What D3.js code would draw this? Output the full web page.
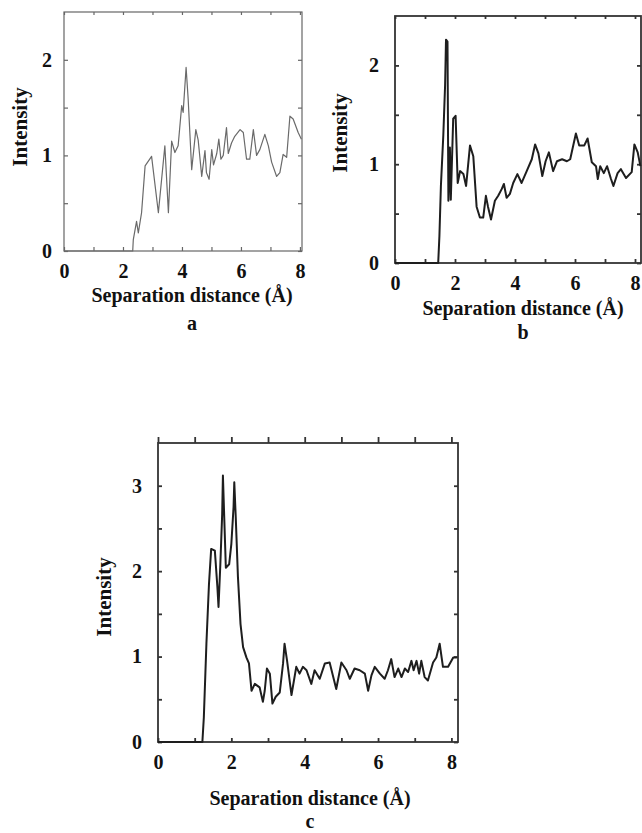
<!DOCTYPE html>
<html>
<head>
<meta charset="utf-8">
<script src="https://cdn.jsdelivr.net/npm/d3@7"></script>
<style>
  body { margin: 0; background: #fff; }
  text { font-family: "Liberation Serif", "Times New Roman", serif; font-weight: bold; fill: #111; }
</style>
</head>
<body>
<script>
// panel a
var aX = [0, 2.33, 2.35, 2.46, 2.52, 2.63, 2.75, 2.97, 3.2, 3.42, 3.54, 3.65, 3.76, 3.87, 3.99, 4.04, 4.14, 4.21, 4.33, 4.47, 4.55, 4.67, 4.78, 4.83, 4.92, 5.01, 5.07, 5.18, 5.25, 5.32, 5.4, 5.51, 5.57, 5.68, 5.79, 5.97, 6.08, 6.19, 6.3, 6.42, 6.53, 6.64, 6.81, 6.93, 7.04, 7.21, 7.32, 7.43, 7.55, 7.66, 7.77, 7.94, 8.05];
var aY = [0, 0, 0.12, 0.31, 0.19, 0.40, 0.89, 0.99, 0.40, 1.10, 0.40, 1.15, 1.03, 1.10, 1.52, 1.45, 1.92, 1.59, 0.85, 1.27, 1.16, 0.78, 1.05, 0.82, 0.75, 1.06, 0.90, 1.02, 1.17, 0.96, 1.0, 1.29, 1.02, 1.13, 1.2, 1.27, 1.24, 0.96, 0.96, 1.27, 1.0, 1.06, 1.22, 1.1, 0.93, 0.78, 0.82, 1.01, 0.98, 1.41, 1.38, 1.24, 1.17];

// panel b
var bX = [0, 1.44, 1.48, 1.53, 1.61, 1.67, 1.70, 1.75, 1.78, 1.83, 1.86, 1.94, 2.02, 2.09, 2.17, 2.28, 2.37, 2.50, 2.61, 2.72, 2.83, 2.94, 3.03, 3.1, 3.20, 3.33, 3.44, 3.56, 3.63, 3.72, 3.83, 3.94, 4.08, 4.22, 4.39, 4.56, 4.67, 4.78, 4.91, 5.02, 5.13, 5.27, 5.4, 5.57, 5.73, 5.84, 6.03, 6.14, 6.31, 6.42, 6.56, 6.7, 6.76, 6.84, 6.96, 7.07, 7.2, 7.28, 7.42, 7.53, 7.7, 7.89, 7.98, 8.09, 8.18];
var bY = [0, 0, 0.27, 0.78, 1.29, 1.8, 2.26, 2.24, 0.63, 1.17, 0.64, 1.46, 1.49, 0.81, 0.93, 0.9, 0.78, 1.19, 1.08, 0.57, 0.46, 0.46, 0.68, 0.57, 0.44, 0.63, 0.68, 0.75, 0.80, 0.66, 0.7, 0.81, 0.9, 0.81, 0.93, 1.05, 1.20, 1.11, 0.88, 1.03, 1.12, 0.93, 1.03, 1.05, 1.03, 1.05, 1.31, 1.19, 1.19, 1.26, 1.02, 0.98, 0.85, 0.98, 0.91, 0.98, 0.85, 0.78, 0.91, 0.95, 0.86, 0.92, 1.20, 1.12, 0.98];

// panel c
var cX = [0, 1.21, 1.25, 1.32, 1.39, 1.45, 1.55, 1.62, 1.65, 1.70, 1.75, 1.77, 1.80, 1.85, 1.94, 2.0, 2.06, 2.08, 2.12, 2.18, 2.25, 2.32, 2.41, 2.48, 2.55, 2.64, 2.77, 2.86, 2.91, 2.97, 3.05, 3.12, 3.21, 3.32, 3.41, 3.45, 3.52, 3.64, 3.77, 3.86, 3.95, 4.05, 4.18, 4.27, 4.41, 4.55, 4.68, 4.86, 5.0, 5.14, 5.23, 5.36, 5.5, 5.64, 5.73, 5.82, 5.91, 6.05, 6.18, 6.27, 6.36, 6.45, 6.55, 6.64, 6.73, 6.82, 6.91, 6.97, 7.05, 7.12, 7.18, 7.27, 7.36, 7.5, 7.59, 7.68, 7.77, 7.91, 8.05, 8.15];
var cY = [0, 0, 0.29, 1.15, 1.85, 2.26, 2.24, 1.81, 1.58, 2.08, 2.67, 3.12, 2.71, 2.04, 2.08, 2.32, 2.75, 3.04, 2.63, 1.93, 1.38, 1.11, 0.99, 0.92, 0.60, 0.68, 0.64, 0.47, 0.60, 0.86, 0.80, 0.45, 0.53, 0.58, 0.92, 1.15, 0.95, 0.55, 0.88, 0.80, 0.88, 0.84, 0.68, 0.84, 0.74, 0.92, 0.93, 0.62, 0.93, 0.84, 0.74, 0.86, 0.84, 0.80, 0.60, 0.78, 0.88, 0.80, 0.74, 0.84, 0.97, 0.76, 0.86, 0.76, 0.86, 0.82, 0.95, 0.84, 0.95, 0.80, 0.95, 0.76, 0.72, 0.93, 0.99, 1.15, 0.88, 0.88, 0.99, 0.99];

var xTicks = [0, 1, 2, 3, 4, 5, 6, 7, 8];
var xTickLabels = ["0", "", "2", "", "4", "", "6", "", "8"];
var yTicksAB = [0, 0.5, 1, 1.5, 2];
var yTicksC = [0, 0.5, 1, 1.5, 2, 2.5, 3];
var xTitle = "Separation distance (Å)";
var yTitle = "Intensity";

var svg = d3.select('body').append('svg').attr('width', 642).attr('height', 833);

function drawPanel(p) {
  var x = d3.scaleLinear().domain(p.xDomain).range([p.left, p.right]);
  var y = d3.scaleLinear().domain(p.yDomain).range([p.bottom, p.top]);
  var g = svg.append('g');

  // frame
  g.append('rect')
    .attr('x', p.left).attr('y', p.top)
    .attr('width', p.right - p.left).attr('height', p.bottom - p.top)
    .attr('fill', 'none').attr('stroke', p.frameColor).attr('stroke-width', p.frameWidth);

  var bottom = g.append('g').attr('transform', 'translate(0,' + p.bottom + ')')
    .call(d3.axisBottom(x).tickValues(xTicks)
      .tickFormat(function (d, i) { return xTickLabels[i]; })
      .tickSizeInner(-4).tickSizeOuter(0).tickPadding(13));
  var left = g.append('g').attr('transform', 'translate(' + p.left + ',0)')
    .call(d3.axisLeft(y).tickValues(p.yTicks)
      .tickFormat(function (d) { return d % 1 === 0 ? d : ''; })
      .tickSizeInner(-4).tickSizeOuter(0).tickPadding(p.yPad));
  var top = g.append('g').attr('transform', 'translate(0,' + p.top + ')')
    .call(d3.axisTop(x).tickValues(xTicks).tickFormat('')
      .tickSizeInner(p.topTick).tickSizeOuter(0));
  var right = g.append('g').attr('transform', 'translate(' + p.right + ',0)')
    .call(d3.axisRight(y).tickValues(p.yTicks).tickFormat('')
      .tickSizeInner(-4).tickSizeOuter(0));

  [bottom, left, top, right].forEach(function (a) {
    a.select('.domain').remove();
    a.selectAll('line').attr('stroke', p.frameColor).attr('stroke-width', p.frameWidth);
    a.selectAll('text').attr('font-size', 20)
      .attr('font-family', '"Liberation Serif", serif').attr('font-weight', 'bold').attr('fill', '#111');
  });

  var line = d3.line().x(function (d) { return x(d[0]); }).y(function (d) { return y(d[1]); });
  g.append('path')
    .datum(d3.zip(p.xs, p.ys))
    .attr('d', line)
    .attr('fill', 'none')
    .attr('stroke', p.lineColor)
    .attr('stroke-width', p.lineWidth)
    .attr('stroke-linejoin', 'round');

  g.append('text').attr('x', p.titleX).attr('y', p.titleY)
    .attr('text-anchor', 'middle').attr('font-size', 20).text(xTitle);
  g.append('text').attr('x', p.titleX).attr('y', p.letterY)
    .attr('text-anchor', 'middle').attr('font-size', 20).text(p.letter);
  g.append('text')
    .attr('transform', 'translate(' + p.yTitleX + ',' + p.yTitleY + ') rotate(-90)')
    .attr('text-anchor', 'middle').attr('font-size', 21).text(yTitle);
}

drawPanel({
  xs: aX, ys: aY, letter: 'a',
  left: 64, right: 302, top: 12, bottom: 251,
  xDomain: [0, 8.07], yDomain: [0, 2.5], yTicks: yTicksAB,
  frameColor: '#666', frameWidth: 1.2, lineColor: '#6a6a6a', lineWidth: 1.2,
  topTick: -3, yPad: 12,
  titleX: 192, titleY: 302, letterY: 330, yTitleX: 27, yTitleY: 127
});

drawPanel({
  xs: bX, ys: bY, letter: 'b',
  left: 395, right: 641, top: 16, bottom: 263,
  xDomain: [0, 8.2], yDomain: [0, 2.5], yTicks: yTicksAB,
  frameColor: '#333', frameWidth: 1.8, lineColor: '#1e1e1e', lineWidth: 2,
  topTick: -3, yPad: 16,
  titleX: 523, titleY: 315, letterY: 339, yTitleX: 347, yTitleY: 133
});

drawPanel({
  xs: cX, ys: cY, letter: 'c',
  left: 158, right: 458, top: 443, bottom: 742,
  xDomain: [0, 8.18], yDomain: [0, 3.5], yTicks: yTicksC,
  frameColor: '#333', frameWidth: 1.8, lineColor: '#1e1e1e', lineWidth: 2,
  topTick: 6, yPad: 16,
  titleX: 310, titleY: 805, letterY: 828, yTitleX: 111, yTitleY: 597
});
</script>
</body>
</html>
